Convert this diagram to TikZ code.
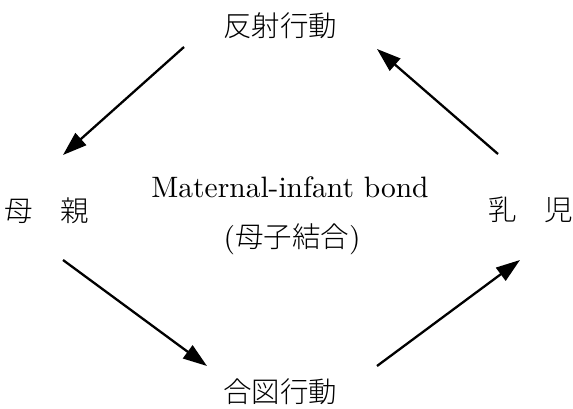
\documentclass[tikz,border=0pt]{standalone}
\usepackage{fontspec}
\newfontfamily\cjk{Noto Sans CJK JP}[UprightFont={* Light}]
\newfontfamily\lmten{lmroman10-regular}[Extension=.otf]
\usetikzlibrary{arrows.meta}
\tikzset{
  jlabel/.style={inner sep=0pt, font=\cjk\fontsize{28.5}{31}\selectfont},
  elabel/.style={inner sep=0pt, font=\lmten\fontsize{29.5}{32}\selectfont},
  flow/.style={line width=2.3pt, -{Triangle[length=24pt,width=16pt]}}
}
\begin{document}
\begin{tikzpicture}[x=1pt,y=-1pt]
\useasboundingbox (0,0) rectangle (573,409);
\node[jlabel] (top) at (280,26) {反射行動};
\node[jlabel] (bottom) at (280,392) {合図行動};
\node[jlabel] (mother) at (47,211) {母\hspace{0.95em}親};
\node[jlabel] (infant) at (531,210) {乳\hspace{0.95em}児};
\node[elabel] (bond) at (290,187) {Maternal-infant bond};
\node[elabel] (bondj) at (292,239) {({\cjk\fontsize{28.5}{31}\selectfont 母子結合})};
\coordinate (a1s) at (184,47);
\coordinate (a1e) at (63,155);
\coordinate (a2s) at (498,154);
\coordinate (a2e) at (377,49);
\coordinate (a3s) at (63,260);
\coordinate (a3e) at (207,366);
\coordinate (a4s) at (377,366);
\coordinate (a4e) at (520,260);
\draw[flow] (a1s) -- (a1e);
\draw[flow] (a2s) -- (a2e);
\draw[flow] (a3s) -- (a3e);
\draw[flow] (a4s) -- (a4e);
\end{tikzpicture}
\end{document}
